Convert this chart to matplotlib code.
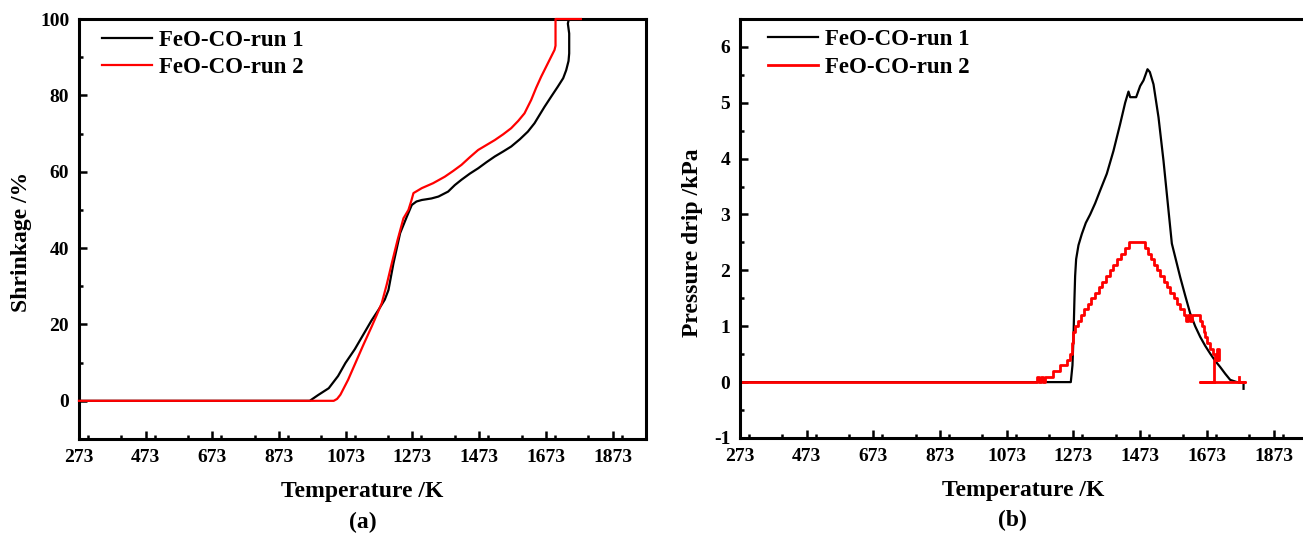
import matplotlib
matplotlib.use('Agg')
import matplotlib.pyplot as plt
from matplotlib.ticker import MultipleLocator

plt.rcParams['font.family'] = ['Liberation Serif', 'DejaVu Serif']
plt.rcParams['font.weight'] = 'bold'
plt.rcParams['axes.unicode_minus'] = False

# Shrinkage curves (temperature in K, shrinkage in %)
temp_shr_run1 = [273, 965, 990, 1022, 1050, 1072, 1100, 1122, 1150, 1171, 1190, 1201, 1216, 1236,
                 1256, 1271, 1285, 1301, 1330, 1351, 1380, 1400, 1420, 1445, 1470, 1495, 1520, 1545,
                 1569, 1595, 1619, 1639, 1655, 1669, 1690, 1709, 1725, 1734, 1741, 1743, 1743, 1739, 1742]
shrink_run1 = [0, 0, 1.5, 3.3, 6.5, 9.9, 13.5, 16.8, 21.0, 23.8, 26.5, 29, 36, 43.9,
               48.2, 51.3, 52.2, 52.6, 53.0, 53.5, 54.8, 56.5, 57.9, 59.5, 60.9, 62.5, 64, 65.3,
               66.6, 68.5, 70.5, 72.7, 75, 77, 79.8, 82.3, 84.5, 86.6, 89, 91, 96.2, 98.8, 100]

temp_shr_run2 = [273, 1037, 1047, 1057, 1080, 1102, 1125, 1151, 1166, 1181, 1196, 1211, 1228, 1246,
                 1261, 1270, 1276, 1301, 1335, 1370, 1395, 1420, 1445, 1470, 1495, 1520, 1545, 1569,
                 1590, 1609, 1629, 1644, 1659, 1679, 1699, 1702, 1702, 1778]
shrink_run2 = [0, 0, 0.5, 1.6, 5.5, 9.9, 14.5, 19.5, 22.5, 25.6, 30.5, 36, 42, 47.8,
               50, 52.5, 54.4, 55.7, 57, 58.7, 60.2, 61.8, 63.8, 65.7, 67, 68.3, 69.8, 71.4,
               73.3, 75.3, 78.8, 82, 84.9, 88.4, 91.9, 93, 100, 100]

# Pressure drop curves (temperature in K, pressure in kPa)
temp_dp_run1 = [273, 1265, 1270, 1273, 1276, 1278, 1281, 1288, 1298, 1310, 1323, 1338, 1353, 1373,
                1393, 1413, 1428, 1433, 1438, 1443, 1461, 1473, 1483, 1495, 1502, 1513, 1528, 1543,
                1558, 1568, 1583, 1593, 1608, 1623, 1638, 1653, 1668, 1683, 1698, 1713, 1728, 1743,
                1763, 1783, 1783]
dp_run1 = [0, 0, 0.3, 0.8, 1.5, 1.9, 2.2, 2.45, 2.65, 2.85, 3.0, 3.2, 3.43, 3.73,
           4.14, 4.62, 5.0, 5.1, 5.2, 5.1, 5.1, 5.3, 5.4, 5.6, 5.55, 5.33, 4.74, 3.96,
           3.07, 2.48, 2.12, 1.88, 1.55, 1.23, 1.0, 0.81, 0.65, 0.51, 0.38, 0.27, 0.15, 0.04,
           0.0, 0.0, -0.12]

temp_dp_run2 = [273, 1165, 1171, 1177, 1183, 1189, 1213, 1233, 1253, 1263, 1268, 1273, 1278, 1286,
                1295, 1305, 1316, 1327, 1338, 1349, 1360, 1371, 1382, 1393, 1404, 1415, 1428, 1441,
                1488, 1497, 1506, 1515, 1524, 1533, 1543, 1553, 1563, 1573, 1583, 1593, 1603, 1609,
                1615, 1621, 1628, 1653, 1658, 1663, 1668, 1674, 1681, 1690, 1698, 1703, 1709, 1693,
                1693, 1653, 1788, 1768]
dp_run2 = [0, 0.1, 0, 0.1, 0, 0.1, 0.2, 0.3, 0.4, 0.5, 0.7, 0.9, 1.0, 1.1,
           1.2, 1.3, 1.4, 1.5, 1.6, 1.7, 1.8, 1.9, 2.0, 2.1, 2.2, 2.3, 2.4, 2.5,
           2.4, 2.3, 2.2, 2.1, 2.0, 1.9, 1.8, 1.7, 1.6, 1.5, 1.4, 1.3, 1.2, 1.1,
           1.2, 1.1, 1.2, 1.1, 1.0, 0.9, 0.8, 0.7, 0.6, 0.5, 0.4, 0.6, 0.4, 0.4,
           0.0, 0.0, 0.0, 0.1]

x_ticks = [273, 473, 673, 873, 1073, 1273, 1473, 1673, 1873]


def style_axes(ax):
    for sp in ax.spines.values():
        sp.set_linewidth(2.2)
    ax.tick_params(which='both', direction='in', top=False, right=False, width=1.8, labelsize=14)
    ax.tick_params(which='major', length=6, pad=7)
    ax.tick_params(which='minor', length=3)
    ax.set_xlim(273, 1973)
    ax.set_xticks(x_ticks)
    ax.xaxis.set_minor_locator(MultipleLocator(100))


fig = plt.figure(figsize=(13.03, 5.37), dpi=100)

# (a) shrinkage
ax1 = fig.add_axes([0.0606, 0.1825, 0.4351, 0.7821])
ax1.plot(temp_shr_run1, shrink_run1, color='black', lw=1.6, label='FeO-CO-run 1')
ax1.plot(temp_shr_run2, shrink_run2, color='red', lw=1.6, label='FeO-CO-run 2',
         zorder=3, clip_on=False)
style_axes(ax1)
ax1.set_ylim(-10, 100)
ax1.set_yticks([0, 20, 40, 60, 80, 100])
ax1.yaxis.set_minor_locator(MultipleLocator(10))
ax1.set_xlabel('Temperature /K', fontsize=17, fontweight='bold')
ax1.xaxis.set_label_coords(0.5, -0.1)
ax1.set_ylabel('Shrinkage /%', fontsize=17, fontweight='bold')
ax1.yaxis.set_label_coords(-0.083, 0.47)
ax1.text(0.5, -0.198, '(a)', transform=ax1.transAxes, ha='center', va='center', fontsize=17)
ax1.legend(loc='upper left', bbox_to_anchor=(0.04, 0.975), frameon=False, fontsize=16.5,
           handlelength=2.2, handletextpad=0.3, labelspacing=0.3, borderpad=0, borderaxespad=0)

# (b) pressure drop
ax2 = fig.add_axes([0.5679, 0.1844, 0.4351, 0.7803])
ax2.plot(temp_dp_run1, dp_run1, color='black', lw=1.6, label='FeO-CO-run 1')
ax2.plot(temp_dp_run2, dp_run2, color='red', lw=2.0, drawstyle='steps-post', label='FeO-CO-run 2')
style_axes(ax2)
ax2.set_ylim(-1, 6.5)
ax2.set_yticks([-1, 0, 1, 2, 3, 4, 5, 6])
ax2.yaxis.set_minor_locator(MultipleLocator(0.5))
ax2.set_xlabel('Temperature /K', fontsize=17, fontweight='bold')
ax2.xaxis.set_label_coords(0.5, -0.1)
ax2.set_ylabel('Pressure drip /kPa', fontsize=17, fontweight='bold')
ax2.yaxis.set_label_coords(-0.066, 0.465)
ax2.text(0.48, -0.198, '(b)', transform=ax2.transAxes, ha='center', va='center', fontsize=17)
ax2.legend(loc='upper left', bbox_to_anchor=(0.049, 0.975), frameon=False, fontsize=16.5,
           handlelength=2.2, handletextpad=0.3, labelspacing=0.3, borderpad=0, borderaxespad=0)

fig.savefig('out.png', dpi=100)
plt.close(fig)
